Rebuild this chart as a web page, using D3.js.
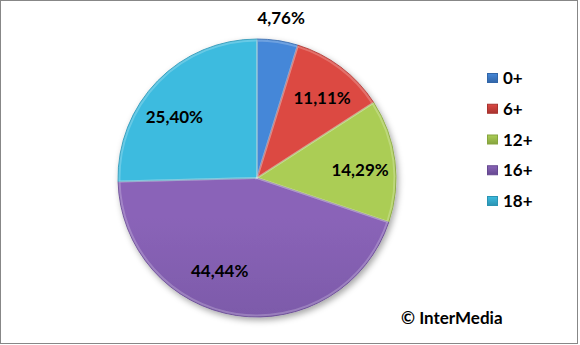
<!DOCTYPE html>
<html>
<head>
<meta charset="utf-8">
<script src="https://cdn.jsdelivr.net/npm/d3@7"></script>
<style>
  body { margin: 0; background: #fff; }
  svg { display: block; font-family: Lato, "Open Sans", sans-serif; font-weight: bold; }
</style>
</head>
<body>
<svg id="chart" width="580" height="345"></svg>
<script>
// age ratings and their share (%)
const categories = ["0+", "6+", "12+", "16+", "18+"];
const shares = [4.76, 11.11, 14.29, 44.44, 25.40];
const labels = ["4,76%", "11,11%", "14,29%", "44,44%", "25,40%"];
const colorsTop = ["#4587d8", "#dc4843", "#abcd55", "#8a64b8", "#3cbbdf"];
const colorsBottom = ["#3266a8", "#a8332f", "#86a43e", "#654890", "#2b93b2"];
const credit = "© InterMedia";

const width = 580, height = 345;
const cx = 257, cy = 178, radius = 139;

const svg = d3.select("#chart");
const defs = svg.append("defs");

// frame
svg.append("rect")
    .attr("x", 0.5).attr("y", 0.5)
    .attr("width", 577).attr("height", 343)
    .attr("fill", "#fff")
    .attr("stroke", "#878787")
    .attr("stroke-width", 1);

// soft shadow under the pie
defs.append("filter").attr("id", "shadow")
    .attr("x", "-20%").attr("y", "-20%").attr("width", "140%").attr("height", "140%")
    .append("feDropShadow")
    .attr("dx", 2).attr("dy", 3).attr("stdDeviation", 3)
    .attr("flood-color", "#000").attr("flood-opacity", 0.35);

// one vertical gradient per slice, spanning the whole pie
categories.forEach((c, i) => {
    let g = defs.append("linearGradient")
        .attr("id", "grad" + i)
        .attr("gradientUnits", "userSpaceOnUse")
        .attr("x1", 0).attr("y1", cy - radius)
        .attr("x2", 0).attr("y2", cy + radius);
    g.append("stop").attr("offset", "0%").attr("stop-color", colorsTop[i]);
    g.append("stop").attr("offset", "100%").attr("stop-color", colorsBottom[i]);

    let lg = defs.append("linearGradient")
        .attr("id", "lg" + i)
        .attr("x1", 0).attr("y1", 0).attr("x2", 0).attr("y2", 1);
    lg.append("stop").attr("offset", "0%").attr("stop-color", colorsTop[i]);
    lg.append("stop").attr("offset", "100%").attr("stop-color", colorsBottom[i]);
});

const pie = d3.pie().sort(null).value(d => d);
const arcs = pie(shares);
const arc = d3.arc().innerRadius(0).outerRadius(radius);
const bevel = d3.arc().innerRadius(0).outerRadius(radius - 1.5);

const pieG = svg.append("g")
    .attr("transform", `translate(${cx},${cy})`);

pieG.append("g").attr("filter", "url(#shadow)")
    .selectAll("path")
    .data(arcs)
    .join("path")
    .attr("d", arc)
    .attr("fill", (d, i) => `url(#grad${i})`)
    .attr("stroke", (d, i) => colorsBottom[i])
    .attr("stroke-width", 0.8);

// light inner edge for the bevel look
pieG.append("g")
    .selectAll("path")
    .data(arcs)
    .join("path")
    .attr("d", bevel)
    .attr("fill", "none")
    .attr("stroke", "#fff")
    .attr("stroke-opacity", 0.22)
    .attr("stroke-width", 2);

// data labels (Excel "best fit" placement, nudged by hand)
const labelArc = d3.arc().innerRadius(radius * 0.74).outerRadius(radius * 0.74);
const outerArc = d3.arc().innerRadius(radius * 1.165).outerRadius(radius * 1.165);
const nudge = [[0, 0], [3, 2], [1, 5], [-22, -9], [-9, 11]];

pieG.append("g")
    .selectAll("text")
    .data(arcs)
    .join("text")
    .attr("transform", (d, i) => {
        let p = i === 0 ? outerArc.centroid(d) : labelArc.centroid(d);
        return `translate(${p[0] + nudge[i][0]},${p[1] + nudge[i][1]})`;
    })
    .attr("text-anchor", "middle")
    .attr("dy", "0.36em")
    .attr("font-size", 17)
    .attr("fill", "#000")
    .text((d, i) => labels[i]);

// legend
const legendY = d3.scalePoint().domain(categories).range([78, 201]);
const legend = svg.append("g").selectAll("g")
    .data(categories)
    .join("g")
    .attr("transform", d => `translate(487,${legendY(d)})`);

legend.append("rect")
    .attr("x", 0.5).attr("y", -4.5)
    .attr("width", 10).attr("height", 9)
    .attr("fill", (d, i) => `url(#lg${i})`)
    .attr("stroke", (d, i) => colorsBottom[i])
    .attr("stroke-width", 1);

legend.append("text")
    .attr("x", 16)
    .attr("dy", "0.36em")
    .attr("font-size", 17)
    .text(d => d);

svg.append("text")
    .attr("x", 401).attr("y", 318)
    .attr("dy", "0.36em")
    .attr("font-size", 17)
    .text(credit);
</script>
</body>
</html>
